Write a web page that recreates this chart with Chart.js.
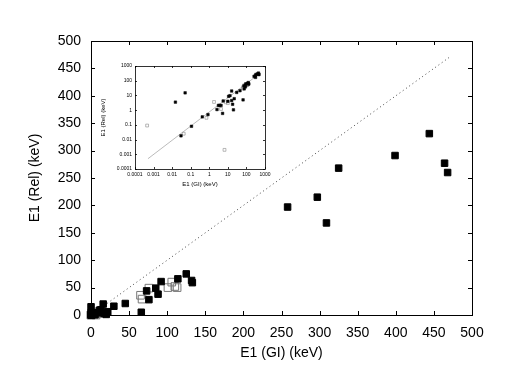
<!DOCTYPE html>
<html>
<head>
<meta charset="utf-8">
<script src="https://cdn.jsdelivr.net/npm/chart.js@4.4.0/dist/chart.umd.min.js"></script>
<style>
  html, body { margin: 0; padding: 0; background: #fff; }
  #wrap { position: relative; width: 518px; height: 388px; }
  #mainChart { position: absolute; left: 0; top: 0; }
  #insetBox { position: absolute; left: 98px; top: 60px; width: 180px; height: 132px; }
</style>
</head>
<body>
<div id="wrap">
  <canvas id="mainChart" width="518" height="388"></canvas>
  <div id="insetBox"><canvas id="insetChart" width="180" height="132"></canvas></div>
</div>
<script>
// --- Data (E1 GI vs E1 Rel, keV) ---
const giFilled = [0.015, 0.05, 0.03, 0.11, 0.42, 0.85, 2.6, 3.1, 3.6, 4.3, 5.2, 5.6,
  10, 11, 13, 16, 16, 18, 20, 22, 30, 45, 66, 73, 76, 85, 88, 92,
  114, 125, 132, 133, 258, 297, 309, 325, 399, 444, 464, 468];
const relFilled = [3.5, 15, 0.018, 0.08, 0.35, 0.5, 1.1, 2.1, 2.1, 2.1, 0.6, 4.2,
  4, 8.7, 9.6, 4.5, 20, 2.5, 1.05, 6, 16, 21, 5, 44, 28, 49, 38, 61,
  66, 75, 63, 59, 197, 215, 168, 268, 291, 331, 277, 260];

const giOpen = [0.00045, 0.042, 0.7, 1.8, 4.3, 6.6, 7.6, 10, 65, 67, 76, 101, 106, 110, 113];
const relOpen = [0.09, 0.025, 0.3, 3.6, 1.2, 0.002, 3.4, 3, 36, 29, 49, 50, 60, 52, 50];

// diagonal y = x (main) and fit line (inset)
const diagX = [0, 470];
const diagY = [0, 470];
const fitX = [0.0005, 500];
const fitY = [0.0005, 300];

const insetTicks = [0.0001, 0.001, 0.01, 0.1, 1, 10, 100, 1000];
const insetTickLabels = ["0.0001", "0.001", "0.01", "0.1", "1", "10", "100", "1000"];

const FONT = "'Liberation Sans', Arial, Helvetica, sans-serif";

const toPts = (xs, ys) => xs.map((x, i) => ({ x: x, y: ys[i] }));

// --- Frame with inward ticks on all four sides (gnuplot look) ---
const frameTicks = {
  id: "frameTicks",
  beforeDatasetsDraw(chart, args, opts) {
    const { ctx, chartArea: a, scales } = chart;
    const len = opts.len;
    ctx.save();
    ctx.strokeStyle = "#000";
    ctx.lineWidth = opts.lineWidth;
    ctx.beginPath();
    scales.x.ticks.forEach(t => {
      const px = Math.round(scales.x.getPixelForValue(t.value)) + 0.5;
      ctx.moveTo(px, a.bottom); ctx.lineTo(px, a.bottom - len);
      ctx.moveTo(px, a.top); ctx.lineTo(px, a.top + len);
    });
    scales.y.ticks.forEach(t => {
      const py = Math.round(scales.y.getPixelForValue(t.value)) + 0.5;
      ctx.moveTo(a.left, py); ctx.lineTo(a.left + len, py);
      ctx.moveTo(a.right, py); ctx.lineTo(a.right - len, py);
    });
    ctx.stroke();
    ctx.strokeRect(Math.round(a.left) + 0.5, Math.round(a.top) + 0.5,
      Math.round(a.width), Math.round(a.height));
    ctx.restore();
  }
};

// --- Main chart ---
new Chart(document.getElementById("mainChart"), {
  type: "scatter",
  data: {
    datasets: [
      {
        data: toPts(giFilled, relFilled),
        pointStyle: "rect",
        pointRadius: 4.6,
        backgroundColor: "#000",
        borderColor: "#000",
        borderWidth: 1,
        clip: false
      },
      {
        data: toPts(giOpen, relOpen),
        pointStyle: "rect",
        pointRadius: 5.4,
        backgroundColor: "rgba(0,0,0,0)",
        borderColor: "#777",
        borderWidth: 1,
        clip: false
      },
      {
        data: toPts(diagX, diagY),
        showLine: true,
        pointRadius: 0,
        borderColor: "#444",
        borderWidth: 1,
        borderDash: [1, 3]
      }
    ]
  },
  options: {
    responsive: false,
    animation: false,
    layout: { padding: { left: 0, top: 41, right: 46, bottom: 0 } },
    plugins: {
      legend: { display: false },
      tooltip: { enabled: false },
      frameTicks: { len: 4, lineWidth: 1 }
    },
    scales: {
      x: {
        type: "linear",
        min: 0, max: 500,
        grid: { display: false, drawTicks: false },
        border: { display: false },
        ticks: { stepSize: 50, color: "#000", padding: 10, maxRotation: 0,
                 font: { family: FONT, size: 14 } },
        title: { display: true, text: "E1 (GI) (keV)", color: "#000",
                 font: { family: FONT, size: 14 }, padding: { top: 0, bottom: 26 } },
        afterFit: s => { s.height = 73; }
      },
      y: {
        type: "linear",
        min: 0, max: 500,
        grid: { display: false, drawTicks: false },
        border: { display: false },
        ticks: { stepSize: 50, color: "#000", padding: 10,
                 font: { family: FONT, size: 14 } },
        title: { display: true, text: "E1 (Rel) (keV)", color: "#000",
                 font: { family: FONT, size: 14 }, padding: { top: 27, bottom: 0 } },
        afterFit: s => { s.width = 91; }
      }
    }
  },
  plugins: [frameTicks]
});

// --- Inset (log-log) ---
const logAxis = (titleText, isX) => ({
  type: "logarithmic",
  min: 0.0001, max: 1000,
  grid: { display: false, drawTicks: false },
  border: { display: false },
  afterBuildTicks: s => { s.ticks = insetTicks.map(v => ({ value: v })); },
  ticks: {
    autoSkip: false, maxRotation: 0, color: "#000", padding: 3,
    font: { family: FONT, size: 5 },
    callback: (v, i) => insetTickLabels[i]
  },
  title: { display: true, text: titleText, color: "#000",
           font: { family: FONT, size: 6 },
           padding: isX ? { top: 0, bottom: 4 } : { top: 1.5, bottom: 0 } },
  afterFit: isX ? (s => { s.height = 23; }) : (s => { s.width = 37; })
});

new Chart(document.getElementById("insetChart"), {
  type: "scatter",
  data: {
    datasets: [
      {
        data: toPts(giFilled, relFilled),
        pointStyle: "rect",
        pointRadius: 1.8,
        backgroundColor: "#000",
        borderColor: "#000",
        borderWidth: 0.5
      },
      {
        data: toPts(giOpen, relOpen),
        pointStyle: "rect",
        pointRadius: 2,
        backgroundColor: "rgba(0,0,0,0)",
        borderColor: "#888",
        borderWidth: 0.6
      },
      {
        data: toPts(fitX, fitY),
        showLine: true,
        pointRadius: 0,
        borderColor: "#aaa",
        borderWidth: 0.8
      }
    ]
  },
  options: {
    responsive: false,
    animation: false,
    layout: { padding: { left: 0, top: 6, right: 13, bottom: 0 } },
    plugins: {
      legend: { display: false },
      tooltip: { enabled: false },
      frameTicks: { len: 2, lineWidth: 0.8 }
    },
    scales: {
      x: logAxis("E1 (GI) (keV)", true),
      y: logAxis("E1 (Rel) (keV)", false)
    }
  },
  plugins: [frameTicks]
});
</script>
</body>
</html>
